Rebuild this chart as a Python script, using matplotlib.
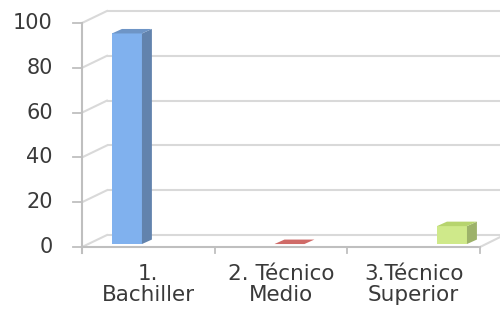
# -*- coding: utf-8 -*-
"""
3D-looking column chart (Excel style) redrawn with matplotlib
"""

import numpy as np
import matplotlib.pyplot as plt
from matplotlib.patches import Polygon

#%% Data

categories = ['1.\nBachiller', '2. Técnico\nMedio', '3.Técnico\nSuperior']
values = [94, 0, 8]
y_ticks = [0, 20, 40, 60, 80, 100]

front_colors = ['#80b1ee', '#c0504d', '#cfe98a']
side_colors = ['#6283ad', '#9c3f3c', '#9db26a']
top_colors = ['#6e95c6', '#cf6a67', '#b7d46e']

#%% Layout (data units)

wall_dx, wall_dy = 0.188, 5.36          # offset front -> back wall
bar_dx, bar_dy = 0.075, 2.0             # depth of a column
bar_base = 1.34                         # columns sit a bit behind the front floor
bar_w = 0.226
bar_x = -0.161 + 1.225 * np.arange(len(values))   # perspective shift of the columns

grid_c = '#d9d9d9'
axis_c = '#bfbfbf'
text_c = '#3a3a3a'

fig = plt.figure(figsize=(5, 3.1), dpi=100)
ax = fig.add_axes([0, 0, 1, 1])
ax.set_xlim(-1.118, 2.651)
ax.set_ylim(-28.1, 110.27)
ax.axis('off')

x0, x1 = -0.5, len(categories) - 0.5
right = 2.7

# back wall + left wall gridlines
for v in y_ticks:
    ax.plot([x0 + wall_dx, right], [v + wall_dy, v + wall_dy], color=grid_c, lw=1.5,
            solid_capstyle='butt', zorder=1)
    ax.plot([x0, x0 + wall_dx], [v, v + wall_dy], color=grid_c, lw=1.5, zorder=1)
    ax.plot([x0 - 0.065, x0], [v, v], color=axis_c, lw=1.3, zorder=2)     # tick
    ax.text(x0 - 0.22, v, str(v), ha='right', va='center', fontsize=15, color=text_c)

# floor (front edge + right side)
ax.plot([x0, x1], [0, 0], color=axis_c, lw=1.5, zorder=2)
ax.plot([x1, x1 + 0.15], [0, 4.4], color=grid_c, lw=1.5, zorder=2)
ax.plot([x0, x0], [-2.7, 100], color=axis_c, lw=1.5, zorder=2)
for t in np.arange(len(categories) + 1) - 0.5:
    ax.plot([t, t], [0, -2.7], color=axis_c, lw=1.3, zorder=2)

# columns: front face, side face, top face
for xb, v, fc, sc, tc in zip(bar_x, values, front_colors, side_colors, top_colors):
    l, r = xb - bar_w / 2, xb + bar_w / 2
    top = bar_base + v
    if v > 0:
        ax.bar(xb, v, width=bar_w, bottom=bar_base, color=fc, zorder=3)
        ax.add_patch(Polygon([(r, bar_base), (r + bar_dx, bar_base + bar_dy),
                              (r + bar_dx, top + bar_dy), (r, top)],
                             closed=True, facecolor=sc, edgecolor='none', zorder=3))
    ax.add_patch(Polygon([(l, top), (r, top), (r + bar_dx, top + bar_dy),
                          (l + bar_dx, top + bar_dy)],
                         closed=True, facecolor=tc, edgecolor='none', zorder=4))

# category labels
for i, lab in enumerate(categories):
    ax.text(i, -7.5, lab, ha='center', va='top', fontsize=15.5, color=text_c,
            linespacing=1.1)

fig.savefig('out.png', dpi=100)
